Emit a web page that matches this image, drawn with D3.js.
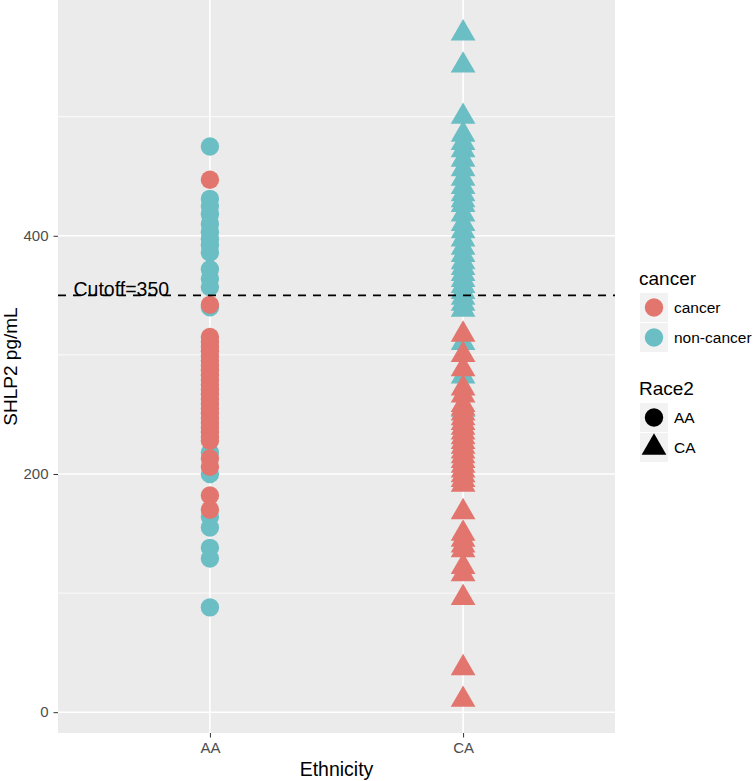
<!DOCTYPE html>
<html>
<head>
<meta charset="utf-8">
<script src="https://cdn.jsdelivr.net/npm/d3@7"></script>
<style>
  body { margin: 0; background: #fff; }
  text { font-family: "Liberation Sans", Arial, Helvetica, sans-serif; }
  .tick text { fill: #4d4d4d; font-size: 15px; }
  .tick line { stroke: #333; }
</style>
</head>
<body>
<div id="chart"></div>
<script>
// categories on the x axis
var categories = ["AA", "CA"];

// SHLP2 values (pg/mL)
var aaNonCancer = [475, 431, 425, 418, 410, 403, 397, 392, 386, 372, 364, 357, 340, 218, 200, 164, 155, 138, 129, 88];
var aaCancer = [447, 342, 315, 311, 307, 303, 299, 295, 291, 287, 283, 279, 275, 271, 267, 263, 259, 255, 251, 247,
  243, 239, 235, 231, 228, 213, 206, 182, 170];
var caNonCancer = [570, 543, 500, 485, 478, 472, 464, 456, 448, 441, 435, 430, 426, 418, 410, 404, 397, 390, 384,
  378, 373, 368, 363, 358, 353, 348, 343, 338, 310, 282, 254];
var caCancer = [317, 300, 288, 272, 266, 258, 255, 251, 247, 243, 239, 235, 231, 227, 223, 219, 215, 211, 207, 203,
  199, 195, 191, 168, 150, 145, 140, 136, 122, 116, 96, 37, 10.5];

var yTicks = [0, 200, 400];
var yMinorTicks = [100, 300, 500];
var cutoff = 350;
var cutoffLabel = "Cutoff=350";

var cancerLevels = ["cancer", "non-cancer"];
var cancerColors = {"cancer": "#e2756d", "non-cancer": "#6abec4"};
var raceLevels = ["AA", "CA"];

// build one table of points, non-cancer first so cancer is drawn on top
var points = [];
aaNonCancer.forEach((v) => points.push({race: "AA", cancer: "non-cancer", value: v}));
caNonCancer.forEach((v) => points.push({race: "CA", cancer: "non-cancer", value: v}));
aaCancer.forEach((v) => points.push({race: "AA", cancer: "cancer", value: v}));
caCancer.forEach((v) => points.push({race: "CA", cancer: "cancer", value: v}));

drawChart();

function drawChart() {
  var margin = {top: 0, right: 139, bottom: 48, left: 58},
    width = 754 - margin.left - margin.right,
    height = 781 - margin.top - margin.bottom;

  var svg = d3.select("#chart").append("svg")
    .attr("width", 754)
    .attr("height", 781);

  var g = svg.append("g")
    .attr("transform", "translate(" + margin.left + "," + margin.top + ")");

  var xScale = d3.scalePoint()
    .domain(categories)
    .range([0, width])
    .padding(0.6);

  // ggplot style 5% expansion
  var ext = d3.extent(points, (d) => d.value);
  var pad = (ext[1] - ext[0]) * 0.05;
  var yScale = d3.scaleLinear()
    .domain([ext[0] - pad, ext[1] + pad])
    .range([height, 0]);

  // panel
  g.append("rect")
    .attr("width", width)
    .attr("height", height)
    .attr("fill", "#ebebeb");

  g.selectAll(".minor")
    .data(yMinorTicks)
    .enter().append("line")
    .attr("class", "minor")
    .attr("x1", 0).attr("x2", width)
    .attr("y1", (d) => yScale(d)).attr("y2", (d) => yScale(d))
    .style("stroke", "#fff")
    .style("stroke-width", 0.8);

  g.selectAll(".major-y")
    .data(yTicks)
    .enter().append("line")
    .attr("class", "major-y")
    .attr("x1", 0).attr("x2", width)
    .attr("y1", (d) => yScale(d)).attr("y2", (d) => yScale(d))
    .style("stroke", "#fff")
    .style("stroke-width", 1.6);

  g.selectAll(".major-x")
    .data(categories)
    .enter().append("line")
    .attr("class", "major-x")
    .attr("x1", (d) => xScale(d)).attr("x2", (d) => xScale(d))
    .attr("y1", 0).attr("y2", height)
    .style("stroke", "#fff")
    .style("stroke-width", 1.6);

  var circle = d3.symbol().type(d3.symbolCircle).size(Math.PI * 9.2 * 9.2);
  var triangle = d3.symbol().type(d3.symbolTriangle).size(265);

  g.selectAll(".pt")
    .data(points)
    .enter().append("path")
    .attr("class", "pt")
    .attr("transform", (d) => "translate(" + xScale(d.race) + "," + yScale(d.value) + ")")
    .attr("d", (d) => d.race == "AA" ? circle() : triangle())
    .attr("fill", (d) => cancerColors[d.cancer]);

  // cutoff line + label
  g.append("line")
    .attr("x1", 0).attr("x2", width)
    .attr("y1", yScale(cutoff)).attr("y2", yScale(cutoff))
    .style("stroke", "#000")
    .style("stroke-width", 1.6)
    .style("stroke-dasharray", "8,7");

  g.append("text")
    .attr("x", xScale("AA") - 0.35 * xScale.step())
    .attr("y", yScale(cutoff) + 1)
    .attr("text-anchor", "middle")
    .style("font-size", "19.5px")
    .style("fill", "#000")
    .text(cutoffLabel);

  // axes
  var yAxis = g.append("g")
    .attr("class", "y axis")
    .call(d3.axisLeft(yScale).tickValues(yTicks).tickSize(4.5).tickPadding(5));
  yAxis.select(".domain").remove();

  var xAxis = g.append("g")
    .attr("class", "x axis")
    .attr("transform", "translate(0," + height + ")")
    .call(d3.axisBottom(xScale).tickSize(4.5).tickPadding(5));
  xAxis.select(".domain").remove();

  svg.append("text")
    .attr("x", margin.left + width / 2)
    .attr("y", 776)
    .attr("text-anchor", "middle")
    .style("font-size", "19.5px")
    .text("Ethnicity");

  svg.append("text")
    .attr("transform", "translate(17," + (margin.top + height / 2) + ") rotate(-90)")
    .attr("text-anchor", "middle")
    .style("font-size", "19px")
    .text("SHLP2 pg/mL");

  // legends
  var lx = 639;
  var leg1 = svg.append("g").attr("transform", "translate(" + lx + ",0)");
  leg1.append("text").attr("x", 0).attr("y", 285).style("font-size", "19px").text("cancer");
  cancerLevels.forEach((c, i) => {
    var ky = 293 + i * 30;
    leg1.append("rect").attr("x", 1).attr("y", ky).attr("width", 28).attr("height", 29).attr("fill", "#f2f2f2");
    leg1.append("path")
      .attr("transform", "translate(15," + (ky + 14.5) + ")")
      .attr("d", circle())
      .attr("fill", cancerColors[c]);
    leg1.append("text").attr("x", 35).attr("y", ky + 14.5).attr("dy", "0.35em")
      .style("font-size", "15.5px").text(c);
  });

  var leg2 = svg.append("g").attr("transform", "translate(" + lx + ",0)");
  leg2.append("text").attr("x", 0).attr("y", 395).style("font-size", "19px").text("Race2");
  raceLevels.forEach((r, i) => {
    var ky = 403 + i * 30;
    leg2.append("rect").attr("x", 1).attr("y", ky).attr("width", 28).attr("height", 29).attr("fill", "#f2f2f2");
    leg2.append("path")
      .attr("transform", "translate(15," + (ky + 14.5) + ")")
      .attr("d", r == "AA" ? circle() : triangle())
      .attr("fill", "#000");
    leg2.append("text").attr("x", 35).attr("y", ky + 14.5).attr("dy", "0.35em")
      .style("font-size", "15.5px").text(r);
  });
}
</script>
</body>
</html>
